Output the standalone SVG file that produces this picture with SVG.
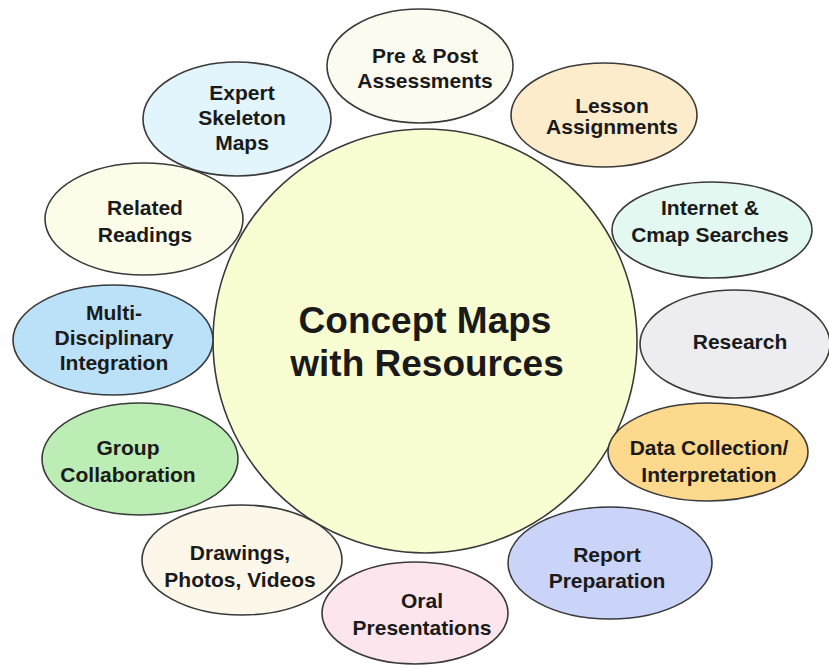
<svg xmlns="http://www.w3.org/2000/svg" width="829" height="669" viewBox="0 0 829 669">
<style>
.n{stroke:#3a3a3a;stroke-width:1.6}
.t{font-family:"Liberation Sans",Arial,sans-serif;font-weight:bold;font-size:21px;fill:#1a1a1a;text-anchor:middle}
.c{font-size:37px}
</style>
<rect width="829" height="669" fill="#ffffff"/>
<g id="center"><circle class="n" cx="425" cy="341" r="212" fill="#f9fdd2"/>
<text class="t c" x="425" y="333">Concept Maps</text><text class="t c" x="427" y="376">with Resources</text></g>
<g id="pre-post"><ellipse class="n" cx="420" cy="66" rx="93" ry="57" fill="#fdfbef"/>
<text class="t" x="425" y="63">Pre &amp; Post</text><text class="t" x="425" y="88">Assessments</text></g>
<g id="lesson"><ellipse class="n" cx="604" cy="115" rx="93" ry="52" fill="#fdeccc"/>
<text class="t" x="612" y="113">Lesson</text><text class="t" x="612" y="134">Assignments</text></g>
<g id="internet"><ellipse class="n" cx="712" cy="230" rx="100" ry="48" fill="#e2f8f1"/>
<text class="t" x="710" y="215">Internet &amp;</text><text class="t" x="710" y="242">Cmap Searches</text></g>
<g id="research"><ellipse class="n" cx="735" cy="344" rx="95" ry="54" fill="#ececf1"/>
<text class="t" x="740" y="349">Research</text></g>
<g id="data"><ellipse class="n" cx="708" cy="452" rx="100" ry="49" fill="#fcd98c"/>
<text class="t" x="709" y="455">Data Collection/</text><text class="t" x="709" y="482">Interpretation</text></g>
<g id="report"><ellipse class="n" cx="610" cy="563" rx="102" ry="56" fill="#cad3f8"/>
<text class="t" x="607" y="562">Report</text><text class="t" x="607" y="588">Preparation</text></g>
<g id="oral"><ellipse class="n" cx="415" cy="613" rx="93" ry="51" fill="#fce5ec"/>
<text class="t" x="422" y="608">Oral</text><text class="t" x="422" y="635">Presentations</text></g>
<g id="drawings"><ellipse class="n" cx="242" cy="560" rx="100" ry="55" fill="#fdf7ea"/>
<text class="t" x="240" y="560">Drawings,</text><text class="t" x="240" y="587">Photos, Videos</text></g>
<g id="group"><ellipse class="n" cx="140" cy="459" rx="98" ry="56" fill="#bbedb4"/>
<text class="t" x="128" y="455">Group</text><text class="t" x="128" y="482">Collaboration</text></g>
<g id="multi"><ellipse class="n" cx="113" cy="340" rx="100" ry="55" fill="#bbe1f8"/>
<text class="t" x="114" y="320">Multi-</text><text class="t" x="114" y="345">Disciplinary</text><text class="t" x="114" y="370">Integration</text></g>
<g id="related"><ellipse class="n" cx="144" cy="219" rx="99" ry="56" fill="#fdfdea"/>
<text class="t" x="145" y="215">Related</text><text class="t" x="145" y="242">Readings</text></g>
<g id="expert"><ellipse class="n" cx="237" cy="119" rx="94" ry="57" fill="#e2f5fc"/>
<text class="t" x="242" y="100">Expert</text><text class="t" x="242" y="125">Skeleton</text><text class="t" x="242" y="150">Maps</text></g>
<g id="connectors"></g>
</svg>
